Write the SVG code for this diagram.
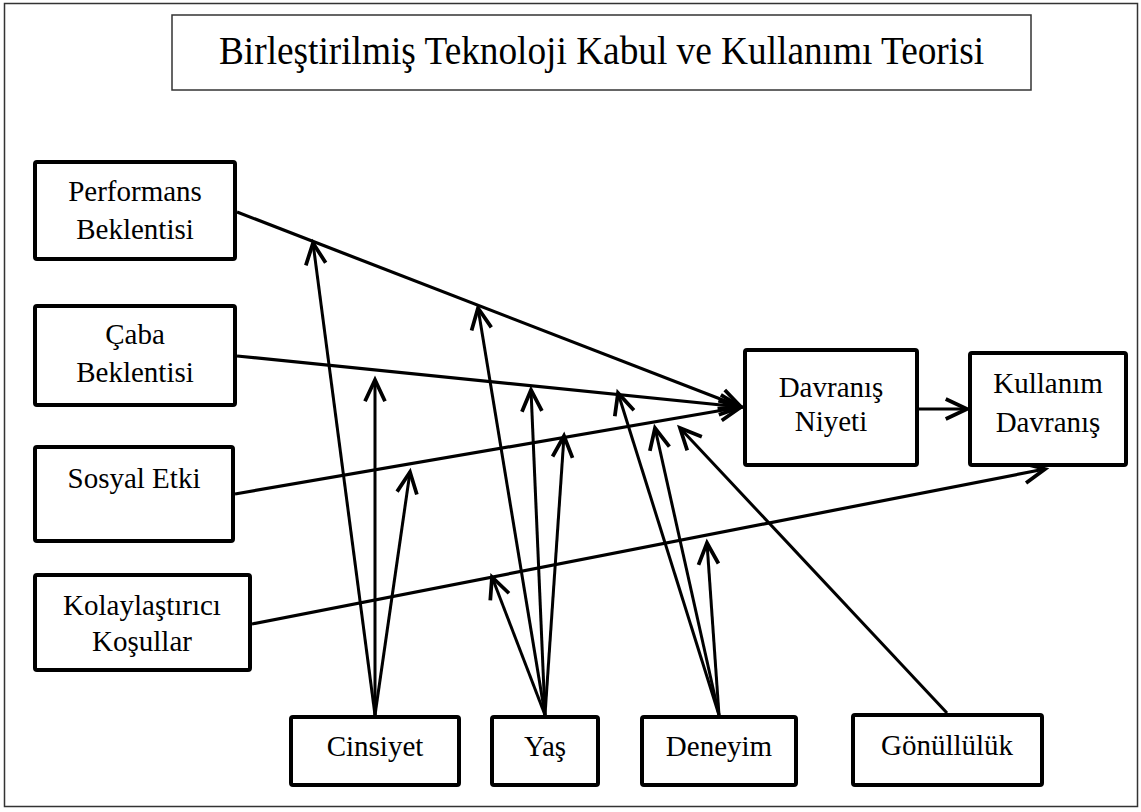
<svg xmlns="http://www.w3.org/2000/svg" width="1141" height="812" viewBox="0 0 1141 812">
<style>
.box{fill:#fff;stroke:#000;stroke-width:4}
.t{font-family:"Liberation Serif","Times New Roman",serif;font-size:29px;fill:#000;text-anchor:middle}
.c{stroke:#000;stroke-width:3.2;fill:none}
.m{stroke:#000;stroke-width:3;fill:none;marker-end:url(#ah)}
</style>
<defs>
<marker id="ah" markerUnits="userSpaceOnUse" markerWidth="30" markerHeight="30" refX="0" refY="0" viewBox="-20 -12 22 24" orient="auto" overflow="visible">
<path d="M-17,-8 L0,0 L-17,8" fill="none" stroke="#000" stroke-width="3"/>
</marker>
</defs>
<rect x="0" y="0" width="1141" height="812" fill="#fff"/>
<rect id="frame" x="4.5" y="3.5" width="1133" height="803" fill="none" stroke="#333" stroke-width="1.5"/>
<g id="title">
<rect x="172" y="15" width="859" height="75" fill="#fff" stroke="#333" stroke-width="1.5"/>
<text x="601.5" y="64" class="t" style="font-size:40px" textLength="765" lengthAdjust="spacingAndGlyphs">Birleştirilmiş Teknoloji Kabul ve Kullanımı Teorisi</text>
</g>
<g id="connectors">
<line class="c" x1="237" y1="212" x2="741" y2="407" marker-end="url(#ah)"/>
<line class="c" x1="237" y1="356" x2="741" y2="407" marker-end="url(#ah)"/>
<line class="c" x1="235" y1="494" x2="741" y2="407" marker-end="url(#ah)"/>
<line class="c" x1="252" y1="624" x2="1045" y2="469" marker-end="url(#ah)"/>
<line class="c" x1="919" y1="409" x2="967" y2="409" marker-end="url(#ah)"/>
<line class="m" x1="375" y1="715" x2="313" y2="243"/>
<line class="m" x1="375" y1="715" x2="375" y2="380"/>
<line class="m" x1="375" y1="715" x2="410" y2="472"/>
<line class="m" x1="545" y1="715" x2="478" y2="308"/>
<line class="m" x1="545" y1="715" x2="531" y2="390"/>
<line class="m" x1="545" y1="715" x2="564" y2="436"/>
<line class="m" x1="545" y1="715" x2="492" y2="577"/>
<line class="m" x1="719" y1="715" x2="618" y2="393"/>
<line class="m" x1="719" y1="715" x2="655" y2="428"/>
<line class="m" x1="719" y1="715" x2="707" y2="543"/>
<line class="m" x1="947" y1="713" x2="680" y2="428"/>
</g>
<g id="performans">
<rect class="box" x="35" y="162" width="200" height="97" rx="2"/>
<text class="t" x="135" y="201">Performans</text>
<text class="t" x="135" y="239">Beklentisi</text>
</g>
<g id="caba">
<rect class="box" x="35" y="306" width="200" height="99" rx="2"/>
<text class="t" x="135" y="344">Çaba</text>
<text class="t" x="135" y="382">Beklentisi</text>
</g>
<g id="sosyal">
<rect class="box" x="35" y="447" width="198" height="94" rx="2"/>
<text class="t" x="134" y="488">Sosyal Etki</text>
</g>
<g id="kolay">
<rect class="box" x="35" y="575" width="215" height="95" rx="2"/>
<text class="t" x="142" y="615">Kolaylaştırıcı</text>
<text class="t" x="142" y="651">Koşullar</text>
</g>
<g id="niyet">
<rect class="box" x="745" y="350" width="172" height="115" rx="2"/>
<text class="t" x="831" y="397">Davranış</text>
<text class="t" x="831" y="431">Niyeti</text>
</g>
<g id="kullanim">
<rect class="box" x="970" y="353" width="156" height="112" rx="2"/>
<text class="t" x="1048" y="393">Kullanım</text>
<text class="t" x="1048" y="432">Davranış</text>
</g>
<g id="cinsiyet">
<rect class="box" x="291" y="717" width="168" height="68" rx="2"/>
<text class="t" x="375" y="756">Cinsiyet</text>
</g>
<g id="yas">
<rect class="box" x="492" y="717" width="106" height="68" rx="2"/>
<text class="t" x="545" y="756">Yaş</text>
</g>
<g id="deneyim">
<rect class="box" x="642" y="717" width="154" height="68" rx="2"/>
<text class="t" x="719" y="756">Deneyim</text>
</g>
<g id="gonulluluk">
<rect class="box" x="853" y="715" width="189" height="70" rx="2"/>
<text class="t" x="947" y="755">Gönüllülük</text>
</g>
</svg>
